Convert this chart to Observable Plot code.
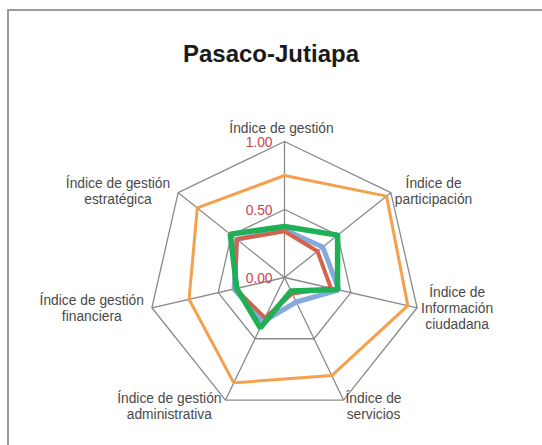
<!DOCTYPE html>
<html>
<head>
<meta charset="utf-8">
<script src="https://cdn.jsdelivr.net/npm/d3@7"></script>
<script src="https://cdn.jsdelivr.net/npm/@observablehq/plot@0.6"></script>
<style>
  html, body { margin: 0; padding: 0; background: #fff; overflow: hidden; }
  #wrap { position: relative; width: 542px; height: 445px; overflow: hidden; font-family: "Liberation Sans", Arial, sans-serif; }
  #frame { position: absolute; left: 7px; top: 9px; width: 600px; height: 500px; border-top: 2px solid #9a9a9a; border-left: 2px solid #9a9a9a; }
  #title { position: absolute; left: 0; top: 42px; width: 542px; text-align: center; font-weight: bold; font-size: 24px; line-height: 24px; color: #1a1a1a; }
  #chart { position: absolute; left: 0; top: 80px; }
</style>
</head>
<body>
<div id="wrap">
  <div id="frame"></div>
  <div id="title">Pasaco-Jutiapa</div>
  <div id="chart"></div>
</div>
<script>
// ---- data ----
const axes = [
  "Índice de gestión",
  "Índice de\nparticipación",
  "Índice de\nInformación\nciudadana",
  "Índice de\nservicios",
  "Índice de gestión\nadministrativa",
  "Índice de gestión\nfinanciera",
  "Índice de gestión\nestratégica"
];
const tickValues = [0, 0.5, 1];
const tickLabels = ["0.00", "0.50", "1.00"];
const seriesNames = ["Serie 1", "Serie 2", "Serie 3", "Serie 4"];
const seriesColors = ["#f4a04c", "#86aadb", "#d4634c", "#1faf57"];
const orangeValues = [0.75, 0.96, 0.93, 0.80, 0.86, 0.72, 0.82];
const blueValues   = [0.35, 0.36, 0.41, 0.20, 0.36, 0.38, 0.45];
const redValues    = [0.34, 0.31, 0.35, 0.13, 0.33, 0.37, 0.45];
const greenValues  = [0.375, 0.50, 0.40, 0.11, 0.41, 0.36, 0.51];

// ---- layout ----
const W = 542, H = 365;
const cx = 284, cy = 197, R = 136;
const n = axes.length;
const ang = i => 2 * Math.PI * i / n;
const proj = (v, i) => ({x: v * Math.sin(ang(i)), y: v * Math.cos(ang(i))});

const seriesData = [orangeValues, blueValues, redValues, greenValues];
const widths = [3, 5, 4, 5.5];

const rings = [0.5, 1].map(v => axes.map((_, i) => proj(v, i)));
const spokes = axes.map((_, i) => proj(1, i));

// measure label widths
const fontSize = 13.8;
const fontFamily = "'Liberation Sans', Arial, sans-serif";
const ctx = document.createElement("canvas").getContext("2d");
ctx.font = `${fontSize}px ${fontFamily}`;
const labelMarks = axes.map((label, i) => {
  const lines = label.split("\n");
  const w = Math.max(...lines.map(l => ctx.measureText(l).width));
  const ux = Math.sin(ang(i)), uy = -Math.cos(ang(i));
  let dx, dy;
  if (Math.abs(ux) < 0.1) { dx = -3; dy = -14; }
  else {
    dx = ux > 0 ? 4 + w / 2 : -(8 + w / 2);
    if (uy > 0.8) { dx = ux > 0 ? 2 + w / 2 : -(4 + w / 2); dy = 6; }
    else dy = uy < 0 ? -2 : 0;
  }
  return Plot.text([proj(1, i)], {
    x: "x", y: "y", text: () => label, textAnchor: "middle", lineAnchor: "middle",
    lineHeight: 16 / fontSize, dx, dy, fill: "#4a4a4a", fontSize, fontFamily
  });
});

const marks = [
  ...rings.map(r => Plot.line(r, {x: "x", y: "y", curve: "linear-closed", stroke: "#8a8a8a", strokeWidth: 1.3})),
  Plot.link(spokes, {x1: () => 0, y1: () => 0, x2: "x", y2: "y", stroke: "#8a8a8a", strokeWidth: 1.3}),
  ...seriesData.map((vals, s) => Plot.line(vals.map((v, i) => ({...proj(v, i), series: seriesNames[s]})), {
    x: "x", y: "y", curve: "linear-closed", stroke: seriesColors[s], strokeWidth: widths[s], strokeLinejoin: "miter"
  })),
  Plot.text(tickValues, {x: () => 0, y: d => d, text: (d, i) => tickLabels[i], textAnchor: "end", dx: -12, dy: 1, fill: "#c8454f", fontSize, fontFamily}),
  ...labelMarks
];

const chart = Plot.plot({
  width: W, height: H, margin: 0,
  x: {domain: [-1, 1], range: [cx - R, cx + R], axis: null},
  y: {domain: [-1, 1], range: [cy + R, cy - R], axis: null},
  style: {background: "transparent", fontFamily},
  marks
});
document.getElementById("chart").appendChild(chart);
</script>
</body>
</html>
